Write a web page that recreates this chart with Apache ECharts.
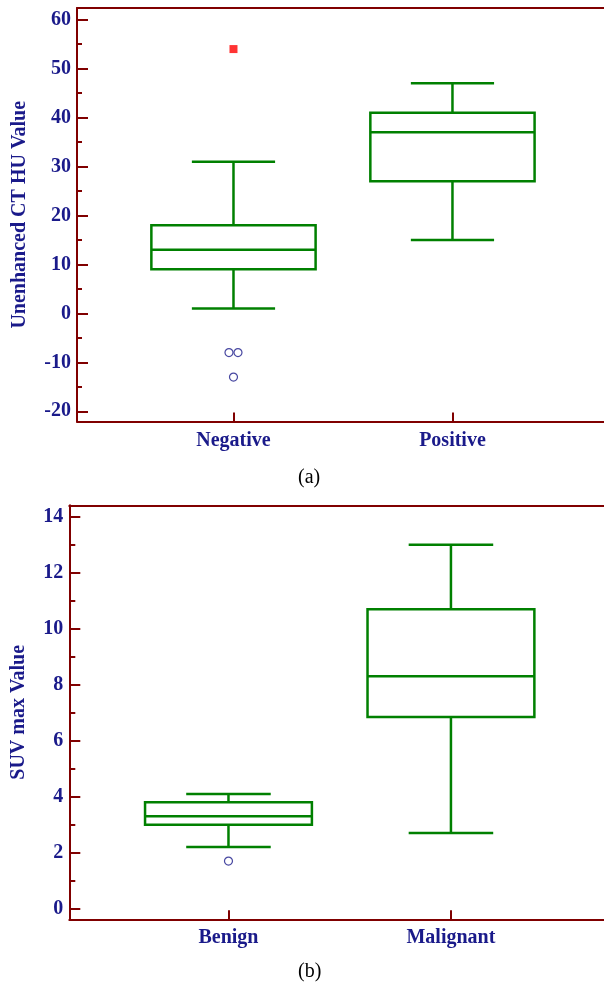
<!DOCTYPE html>
<html>
<head>
<meta charset="utf-8">
<script src="https://cdn.jsdelivr.net/npm/echarts@6/dist/echarts.min.js"></script>
<style>
html,body{margin:0;padding:0;background:#fff;}
#chart{width:604px;height:986px;}
</style>
</head>
<body>
<div id="chart"></div>
<script>
// ---- Data (a) ----
var catsA = ['Negative', 'Positive'];
// [lowerWhisker, Q1, median, Q3, upperWhisker]
var boxA = [[1, 9, 13, 18, 31], [15, 27, 37, 41, 47]];
var outliersA = [[0, -8], [0, -8], [0, -13]];   // [category index, value]
var farOutliersA = [[0, 54]];
var ticksA = [-20, -10, 0, 10, 20, 30, 40, 50, 60];
var minorTicksA = [-15, -5, 5, 15, 25, 35, 45, 55];

// ---- Data (b) ----
var catsB = ['Benign', 'Malignant'];
var boxB = [[2.2, 3.0, 3.3, 3.8, 4.1], [2.7, 6.85, 8.3, 10.7, 13.0]];
var outliersB = [[0, 1.7]];
var farOutliersB = [];
var ticksB = [0, 2, 4, 6, 8, 10, 12, 14];
var minorTicksB = [1, 3, 5, 7, 9, 11, 13];

var AXIS = '#800000', GREEN = '#008000', NAVY = '#1a1a8a';
var FONT = '"Liberation Serif", "Times New Roman", serif';
var BOX_W = 0.75, CAP_W = 0.38;

function renderBox(params, api) {
  var x = api.value(0);
  var lo = api.coord([x, api.value(1)]);
  var q1 = api.coord([x, api.value(2)]);
  var md = api.coord([x, api.value(3)]);
  var q3 = api.coord([x, api.value(4)]);
  var hi = api.coord([x, api.value(5)]);
  var hw = api.size([BOX_W, 0])[0] / 2;
  var cw = api.size([CAP_W, 0])[0] / 2;
  var cx = md[0];
  var st = {stroke: GREEN, fill: null, lineWidth: 2.5};
  return {
    type: 'group',
    children: [
      {type: 'line', shape: {x1: cx, y1: q3[1], x2: cx, y2: hi[1]}, style: st},
      {type: 'line', shape: {x1: cx, y1: q1[1], x2: cx, y2: lo[1]}, style: st},
      {type: 'line', shape: {x1: cx - cw, y1: hi[1], x2: cx + cw, y2: hi[1]}, style: st},
      {type: 'line', shape: {x1: cx - cw, y1: lo[1], x2: cx + cw, y2: lo[1]}, style: st},
      {type: 'rect', shape: {x: cx - hw, y: q3[1], width: 2 * hw, height: q1[1] - q3[1]}, style: st},
      {type: 'line', shape: {x1: cx - hw, y1: md[1], x2: cx + hw, y2: md[1]}, style: st}
    ]
  };
}

function outlierData(list) {
  var counts = {}, seen = {};
  list.forEach(function (o) { var k = o[0] + '_' + o[1]; counts[k] = (counts[k] || 0) + 1; });
  return list.map(function (o) {
    var k = o[0] + '_' + o[1];
    var n = counts[k]; var i = seen[k] || 0; seen[k] = i + 1;
    var off = (i - (n - 1) / 2) * 9;
    return {value: [o[0] + 1, o[1]], symbolOffset: [off, 0]};
  });
}

function xAxes(gi, cats, min, max) {
  return [{
    type: 'value', gridIndex: gi, position: 'bottom', min: min, max: max,
    axisLine: {show: true, onZero: false, lineStyle: {color: AXIS, width: 2}},
    axisTick: {show: true, inside: true, length: 9, customValues: [1, 2], lineStyle: {color: AXIS, width: 2}},
    axisLabel: {show: true, customValues: [1, 2], margin: 9,
      formatter: function (v) { return cats[Math.round(v) - 1] || ''; },
      color: NAVY, fontFamily: FONT, fontWeight: 'bold', fontSize: 20},
    splitLine: {show: false}
  }, {
    type: 'value', gridIndex: gi, position: 'top', min: min, max: max,
    axisLine: {show: true, onZero: false, lineStyle: {color: AXIS, width: 2}},
    axisTick: {show: false}, axisLabel: {show: false}, splitLine: {show: false}
  }];
}

function yAxes(gi, name, min, max, ticks, minor, nameGap, minorLen) {
  return [{
    type: 'value', gridIndex: gi, position: 'left', min: min, max: max,
    name: name, nameLocation: 'middle', nameGap: nameGap,
    nameTextStyle: {color: NAVY, fontFamily: FONT, fontWeight: 'bold', fontSize: 20},
    axisLine: {show: true, onZero: false, lineStyle: {color: AXIS, width: 2}},
    axisTick: {show: true, inside: true, length: 11, customValues: ticks, lineStyle: {color: AXIS, width: 2}},
    axisLabel: {show: true, customValues: ticks, margin: 6,
      color: NAVY, fontFamily: FONT, fontWeight: 'bold', fontSize: 20},
    splitLine: {show: false}
  }, {
    type: 'value', gridIndex: gi, position: 'left', min: min, max: max,
    axisLine: {show: false, onZero: false},
    axisTick: {show: true, inside: true, length: minorLen, customValues: minor, lineStyle: {color: AXIS, width: 2}},
    axisLabel: {show: false}, splitLine: {show: false}
  }];
}

var chart = echarts.init(document.getElementById('chart'), null, {renderer: 'canvas'});
var option = {
  backgroundColor: '#ffffff',
  animation: false,
  grid: [
    {left: 77, right: 0, top: 8, height: 413.5, outerBoundsMode: 'none', containLabel: false},
    {left: 69.3, right: 0, top: 505.3, height: 414, outerBoundsMode: 'none', containLabel: false}
  ],
  xAxis: xAxes(0, catsA, 0.2854, 2.692).concat(xAxes(1, catsB, 0.2845, 2.688)),
  yAxis: yAxes(0, 'Unenhanced CT HU Value', -22.08, 62.39, ticksA, minorTicksA, 47, 5)
    .concat(yAxes(1, 'SUV max Value', -0.38, 14.41, ticksB, minorTicksB, 40, 6)),
  series: [
    {type: 'custom', xAxisIndex: 0, yAxisIndex: 0, renderItem: renderBox, clip: false,
     data: boxA.map(function (b, i) { return [i + 1].concat(b); }),
     encode: {x: 0, y: [1, 2, 3, 4, 5]}},
    {type: 'scatter', xAxisIndex: 0, yAxisIndex: 0, symbol: 'circle', symbolSize: 8,
     itemStyle: {color: '#ffffff', borderColor: NAVY, borderWidth: 1.2},
     data: outlierData(outliersA)},
    {type: 'scatter', xAxisIndex: 0, yAxisIndex: 0, symbol: 'rect', symbolSize: 8,
     itemStyle: {color: '#ff0000'},
     data: outlierData(farOutliersA)},
    {type: 'custom', xAxisIndex: 2, yAxisIndex: 2, renderItem: renderBox, clip: false,
     data: boxB.map(function (b, i) { return [i + 1].concat(b); }),
     encode: {x: 0, y: [1, 2, 3, 4, 5]}},
    {type: 'scatter', xAxisIndex: 2, yAxisIndex: 2, symbol: 'circle', symbolSize: 8,
     itemStyle: {color: '#ffffff', borderColor: NAVY, borderWidth: 1.2},
     data: outlierData(outliersB)},
    {type: 'scatter', xAxisIndex: 2, yAxisIndex: 2, symbol: 'rect', symbolSize: 8,
     itemStyle: {color: '#ff0000'},
     data: outlierData(farOutliersB)}
  ],
  graphic: [
    {type: 'text', left: 298, top: 468, style: {text: '(a)', fill: '#000', font: '20px ' + FONT}},
    {type: 'text', left: 298, top: 962, style: {text: '(b)', fill: '#000', font: '20px ' + FONT}}
  ]
};
chart.setOption(option);
</script>
</body>
</html>
